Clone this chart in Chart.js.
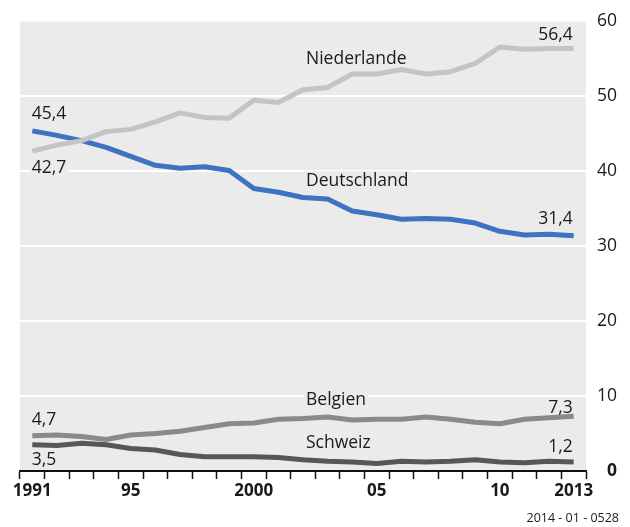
<!DOCTYPE html>
<html>
<head>
<meta charset="utf-8">
<script src="https://cdn.jsdelivr.net/npm/chart.js@4/dist/chart.umd.min.js"></script>
<style>
  html, body { margin: 0; padding: 0; background: #ffffff; }
  #wrap { width: 630px; height: 527px; position: relative; }
</style>
</head>
<body>
<div id="wrap"><canvas id="c" width="630" height="527"></canvas></div>
<script>
// ---- data ----
const years = ['1991','1992','1993','1994','1995','1996','1997','1998','1999','2000','2001','2002','2003','2004','2005','2006','2007','2008','2009','2010','2011','2012','2013'];
const yearTickLabels = ['1991','','','','95','','','','','2000','','','','','05','','','','','10','','','2013'];
const niederlande = [42.7,43.5,44.1,45.3,45.6,46.6,47.8,47.2,47.1,49.5,49.2,50.9,51.2,53.0,53.0,53.6,53.0,53.3,54.4,56.6,56.3,56.4,56.4];
const deutschland = [45.4,44.8,44.1,43.2,42.0,40.8,40.4,40.6,40.1,37.7,37.2,36.5,36.3,34.7,34.2,33.6,33.7,33.6,33.1,32.0,31.5,31.6,31.4];
const belgien     = [4.7,4.8,4.6,4.2,4.8,5.0,5.3,5.8,6.3,6.4,6.9,7.0,7.2,6.8,6.9,6.9,7.2,6.9,6.5,6.3,6.9,7.1,7.3];
const schweiz     = [3.5,3.4,3.7,3.5,3.0,2.8,2.2,1.9,1.9,1.9,1.8,1.5,1.3,1.2,1.0,1.3,1.2,1.3,1.5,1.2,1.1,1.3,1.2];
const seriesNames = ['Niederlande','Deutschland','Belgien','Schweiz'];
const yTicks = [0,10,20,30,40,50,60];
const footerText = '2014 - 01 - 0528';

// ---- styling ----
const FONT = "'Open Sans', 'DejaVu Sans', sans-serif";
const FS = 17.5;
const CAP = 0.714;
const colors = ['#c4c4c4', '#3d73c0', '#8a8a8a', '#575757'];
const series = [niederlande, deutschland, belgien, schweiz];
// label placement (pixel offsets of text cap-centres relative to data points; value anchors for names)
const nameAnchors = [55.17, 38.85, 9.67, 3.9];
const startOffsets = [16, -17.7, -17, 14];
const endOffsets = [-15, -18, -10, -16];
const fmt = v => v.toFixed(1).replace('.', ',');

const labelPlugin = {
  id: 'labels',
  beforeDraw(chart) {
    const {ctx, chartArea: a} = chart;
    ctx.save();
    ctx.fillStyle = '#ebebeb';
    ctx.fillRect(a.left, a.top, a.right - a.left, a.bottom - a.top);
    ctx.restore();
  },
  _items(chart) {
    const xs = chart.scales.x, ys = chart.scales.y;
    const items = [];
    const nameX = xs.getPixelForValue(11) + 3;
    series.forEach((d, i) => {
      items.push({text: seriesNames[i], x: nameX, y: ys.getPixelForValue(nameAnchors[i]), align: 'left'});
      items.push({text: fmt(d[0]), x: xs.getPixelForValue(0) - 0.5, y: ys.getPixelForValue(d[0]) + startOffsets[i], align: 'left'});
      items.push({text: fmt(d[d.length - 1]), x: xs.getPixelForValue(d.length - 1) - 1, y: ys.getPixelForValue(d[d.length - 1]) + endOffsets[i], align: 'right'});
    });
    return items;
  },
  beforeDatasetsDraw(chart) {
    const ctx = chart.ctx;
    ctx.save();
    ctx.font = FS + 'px ' + FONT;
    ctx.fillStyle = '#ebebeb';
    this._items(chart).forEach(it => {
      const w = ctx.measureText(it.text).width;
      const x0 = it.align === 'left' ? it.x : it.x - w;
      ctx.fillRect(x0 - 2, it.y - 9, w + 4, 18);
    });
    ctx.restore();
  },
  afterDatasetsDraw(chart) {
    const ctx = chart.ctx;
    ctx.save();
    ctx.font = FS + 'px ' + FONT;
    ctx.fillStyle = '#1a1a1a';
    ctx.textBaseline = 'alphabetic';
    this._items(chart).forEach(it => {
      ctx.textAlign = it.align;
      ctx.fillText(it.text, it.x, it.y + CAP * FS / 2);
    });
    ctx.font = '12.5px ' + FONT;
    ctx.textAlign = 'right';
    ctx.fillText(footerText, 619, 517.8 + CAP * 12.5 / 2);
    ctx.restore();
  }
};

new Chart(document.getElementById('c'), {
  type: 'line',
  data: {
    labels: years,
    datasets: series.map((d, i) => ({
      label: seriesNames[i],
      data: d,
      borderColor: colors[i],
      borderWidth: 5,
      pointRadius: 0,
      tension: 0,
      borderJoinStyle: 'round',
      borderCapStyle: 'butt',
      fill: false
    }))
  },
  options: {
    responsive: false,
    animation: false,
    layout: { padding: { left: 20, right: 13, top: 20, bottom: 20 } },
    plugins: { legend: { display: false }, tooltip: { enabled: false } },
    scales: {
      x: {
        type: 'category',
        offset: true,
        afterFit(s) { s.height = 36; },
        grid: { offset: true, drawOnChartArea: false, drawTicks: true, tickLength: 8, tickColor: '#111', tickWidth: 1.5 },
        border: { display: true, color: '#111', width: 2 },
        ticks: {
          autoSkip: false, maxRotation: 0, minRotation: 0, padding: 2,
          color: '#1a1a1a',
          font: { family: FONT, size: 17, weight: 'bold' },
          callback: (v, i) => yearTickLabels[i]
        }
      },
      y: {
        position: 'right',
        min: 0, max: 60,
        afterFit(s) { s.width = 31; },
        afterBuildTicks(s) { s.ticks = yTicks.map(v => ({value: v})); },
        grid: {
          drawTicks: false,
          color: ctx => (ctx.tick && (ctx.tick.value === 60 || ctx.tick.value === 0)) ? 'rgba(0,0,0,0)' : '#ffffff',
          lineWidth: 2
        },
        border: { display: false },
        ticks: {
          padding: 11, crossAlign: 'far',
          color: '#1a1a1a',
          font: ctx => ({ family: FONT, size: FS, weight: (ctx.tick && ctx.tick.value === 0) ? 'bold' : 'normal' })
        }
      }
    }
  },
  plugins: [labelPlugin]
});
</script>
</body>
</html>
